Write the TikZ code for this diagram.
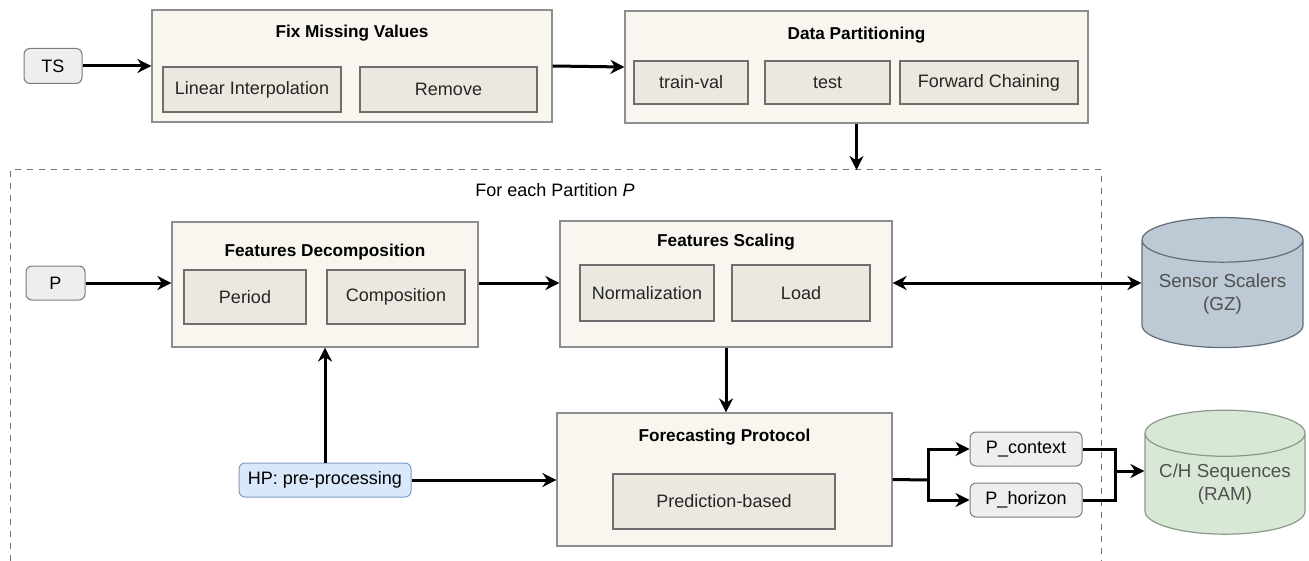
\documentclass[tikz,border=0pt]{standalone}
\usepackage{fontspec}
\setmainfont{Liberation Sans}
\usepackage{xcolor}
\usetikzlibrary{arrows.meta,positioning,shapes.geometric}
\definecolor{stagefill}{HTML}{F8F6EE}
\definecolor{stageline}{HTML}{8E8E8E}
\definecolor{subfill}{HTML}{EBE8E0}
\definecolor{subline}{HTML}{6E6E6E}
\definecolor{inpfill}{HTML}{EEEEEE}
\definecolor{inpline}{HTML}{7A7A7A}
\definecolor{hpfill}{HTML}{DAE8FC}
\definecolor{hpline}{HTML}{7D9CC8}
\definecolor{scalfill}{HTML}{BDC9D5}
\definecolor{scalline}{HTML}{5F6E7B}
\definecolor{seqfill}{HTML}{D9E8D6}
\definecolor{seqline}{HTML}{8A9A88}
\definecolor{dbtext}{HTML}{505050}

\begin{document}
\begin{tikzpicture}[x=0.5pt,y=-0.5pt,font=\fontsize{9}{10.5}\selectfont,
  stage/.style={draw=stageline,fill=stagefill,inner sep=0pt,line width=0.6pt},
  sub/.style={draw=subline,fill=subfill,inner sep=0pt,line width=0.6pt,text=black!85},
  ttl/.style={font=\fontsize{8.6}{10}\selectfont\bfseries},
  inp/.style={draw=inpline,fill=inpfill,rounded corners=3pt,inner sep=0pt,
    minimum height=17.5pt,line width=0.5pt},
  hpbox/.style={draw=hpline,fill=hpfill,rounded corners=3pt,inner sep=0pt,
    minimum height=17pt,line width=0.5pt},
  db/.style={cylinder,shape border rotate=90,shape aspect=0.35,draw,line width=0.6pt,
    align=center,text=dbtext,inner sep=0pt,font=\fontsize{9.4}{11.5}\selectfont},
  arr/.style={-{Stealth[length=7pt,width=7pt]},line width=1.5pt},
  link/.style={line width=1.5pt}]
\useasboundingbox (0,0) rectangle (1309,561);
% ---- top row: missing values and partitioning ----
\node[inp,minimum width=29pt] (ts) at (53,66) {TS};
\node[stage,minimum width=200pt,minimum height=56pt] (fmv) at (352,66) {};
\node[ttl] (fmvt) at (352,33) {Fix Missing Values};
\node[sub,minimum width=89pt,minimum height=22.5pt] (lin) at (252,89.5) {Linear Interpolation};
\node[sub,minimum width=88.5pt,minimum height=22.5pt] (rem) at (448.5,89.5) {Remove};
\node[stage,minimum width=231.5pt,minimum height=56pt] (dp) at (856.5,67) {};
\node[ttl] (dpt) at (856.5,35) {Data Partitioning};
\node[sub,minimum width=57pt,minimum height=21.5pt] (trv) at (691,82.5) {train-val};
\node[sub,minimum width=62.5pt,minimum height=21.5pt] (tst) at (827.5,82.5) {test};
\node[sub,minimum width=89pt,minimum height=21.5pt] (fwc) at (989,82.5) {Forward Chaining};
\draw[arr] (ts.east) -- (fmv.west);
\draw[arr] (fmv.east) -- (dp.west);
% ---- per partition loop (dashed, open at the bottom) ----
\draw[stageline!80!black,dashed,line width=0.5pt] (10,561) |- (1101,170) -- (1101,561);
\coordinate (ptop) at (856.5,170);
\draw[arr] (dp.south) -- (ptop);
\node (each) at (555,190) {For each Partition \textit{P}};
\node[inp,minimum width=29.5pt,minimum height=17pt] (p) at (55.5,283) {P};
\node[stage,minimum width=153pt,minimum height=62.5pt] (fd) at (325,284.5) {};
\node[ttl] (fdt) at (325,252) {Features Decomposition};
\node[sub,minimum width=61pt,minimum height=27pt] (per) at (245,297) {Period};
\node[sub,minimum width=69pt,minimum height=27pt] (comp) at (396,297) {Composition};
\node[stage,minimum width=166pt,minimum height=63pt] (fs) at (726,284) {};
\node[ttl] (fst) at (726,242) {Features Scaling};
\node[sub,minimum width=67pt,minimum height=28pt] (norm) at (647,293) {Normalization};
\node[sub,minimum width=69pt,minimum height=28pt] (load) at (801,293) {Load};
\node[stage,minimum width=167.5pt,minimum height=66.5pt] (fp) at (724.5,479.5) {};
\node[ttl] (fpt) at (724.5,437) {Forecasting Protocol};
\node[sub,minimum width=111pt,minimum height=27.5pt] (pred) at (724,501.5) {Prediction-based};
\node[hpbox,minimum width=86pt] (hp) at (325,480) {HP: pre-processing};
\node[inp,minimum width=56pt,minimum height=17pt] (pctx) at (1026,449) {P\_context};
\node[inp,minimum width=56pt,minimum height=17pt] (phor) at (1026,500) {P\_horizon};
% ---- stores ----
\node[db,fill=scalfill,draw=scalline,minimum width=80.5pt,minimum height=65pt]
  (scal) at (1222.5,294) {Sensor Scalers\\(GZ)};
\node[db,fill=seqfill,draw=seqline,minimum width=80pt,minimum height=62pt]
  (seq) at (1225,484) {C/H Sequences\\(RAM)};
% ---- connectors ----
\draw[arr] (p.east) -- (p.east -| fd.west);
\draw[arr] (fd.east |- 0,283) -- (fs.west |- 0,283);
\draw[arr,{Stealth[length=7pt,width=7pt]}-{Stealth[length=7pt,width=7pt]}]
  (fs.east |- 0,283) -- (scal.west |- 0,283);
\draw[arr] (fs.south) -- (fs.south |- fp.north);
\draw[arr] (hp.north) -- (fd.south);
\draw[arr] (hp.east) -- (hp.east -| fp.west);
\coordinate (fork) at (928,480);
\draw[link] (fp.east) -- (fork);
\draw[arr] (fork) |- (pctx.west);
\draw[arr] (fork) |- (phor.west);
\coordinate (join) at (1115,471);
\draw[link] (pctx.east) -| (join);
\draw[link] (phor.east) -| (join);
\draw[arr] (join) -- (join -| seq.west);
\end{tikzpicture}
\end{document}
